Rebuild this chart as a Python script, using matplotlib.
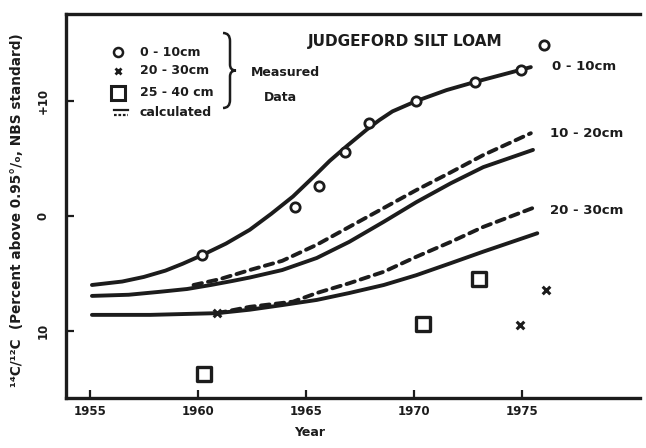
import numpy as np
import matplotlib
matplotlib.use("Agg")
import matplotlib.pyplot as plt
from matplotlib.path import Path
from matplotlib.patches import PathPatch
from matplotlib.lines import Line2D

ink = "#1c1c1c"

# calculated curves (year, 14C excess)
yr_010 = [1955.1, 1956.5, 1957.5, 1958.5, 1959.3, 1960.2, 1961.3, 1962.4, 1963.4, 1964.4,
          1965.4, 1966.1, 1966.9, 1967.8, 1968.4, 1969.0, 1970.1, 1971.5, 1972.8, 1974.0, 1975.4]
c_010 = [-6.0, -5.7, -5.3, -4.75, -4.15, -3.4, -2.4, -1.2, 0.2, 1.7,
         3.5, 4.8, 6.1, 7.5, 8.35, 9.1, 10.0, 10.95, 11.65, 12.25, 12.95]

yr_1020 = [1955.1, 1956.8, 1958.2, 1959.5, 1960.6, 1961.6, 1962.4, 1963.9, 1965.5, 1967.0,
           1968.6, 1970.1, 1971.7, 1973.2, 1975.5]
c_1020 = [-6.95, -6.85, -6.6, -6.35, -6.0, -5.65, -5.35, -4.7, -3.65, -2.25,
          -0.5, 1.2, 2.85, 4.25, 5.75]
yr_1020d = [1959.8, 1961.0, 1962.4, 1963.9, 1965.5, 1967.0, 1968.6, 1970.1, 1971.7, 1973.2, 1975.4]
c_1020d = [-6.0, -5.5, -4.7, -3.9, -2.5, -0.95, 0.7, 2.25, 3.8, 5.3, 7.2]

yr_2030 = [1955.1, 1957.8, 1960.9, 1962.4, 1963.9, 1965.5, 1967.0, 1968.6, 1970.1, 1971.7,
           1973.2, 1975.7]
c_2030 = [-8.6, -8.6, -8.45, -8.15, -7.75, -7.3, -6.7, -6.0, -5.15, -4.1, -3.1, -1.5]
yr_2030d = [1960.9, 1962.4, 1964.4, 1965.5, 1967.0, 1968.6, 1970.1, 1971.7, 1973.2, 1975.5]
c_2030d = [-8.45, -7.9, -7.45, -6.7, -5.85, -4.85, -3.55, -2.25, -0.95, 0.7]

# measured data
circ_yr = [1960.2, 1964.5, 1965.6, 1966.8, 1967.9, 1970.1, 1972.8, 1974.95, 1976.0]
circ_v = [-3.4, 0.8, 2.6, 5.55, 8.1, 10.0, 11.65, 12.7, 14.85]
cross_yr = [1960.9, 1974.9, 1976.1]
cross_v = [-8.45, -9.5, -6.45]
sq_yr = [1960.3, 1970.4, 1973.0]
sq_v = [-13.75, -9.4, -5.5]

W, H = 646, 448
fig = plt.figure(figsize=(W / 100, H / 100), dpi=100)
ax = fig.add_axes([66 / W, 1 - 398 / H, (640 - 66) / W, (398 - 14) / H])
ax.set_xlim(1953.9, 1980.45)
ax.set_ylim(-15.83, 17.57)

def px(x, y):
    return x / W, 1 - y / H

lw = 2.8
dash = (0, (2.2, 1.6))
ax.plot(yr_010, c_010, color=ink, lw=lw, solid_capstyle="round", solid_joinstyle="round")
ax.plot(yr_1020, c_1020, color=ink, lw=lw, solid_capstyle="round", solid_joinstyle="round")
ax.plot(yr_1020d, c_1020d, color=ink, lw=lw, ls=dash, dash_capstyle="round")
ax.plot(yr_2030, c_2030, color=ink, lw=lw, solid_capstyle="round", solid_joinstyle="round")
ax.plot(yr_2030d, c_2030d, color=ink, lw=lw, ls=dash, dash_capstyle="round")

ax.scatter(circ_yr, circ_v, s=45, facecolors="white", edgecolors=ink, linewidths=2.0, zorder=3)
ax.scatter(cross_yr, cross_v, s=30, marker="x", color=ink, linewidths=2.2, zorder=3)
ax.scatter(sq_yr, sq_v, s=110, marker="s", facecolors="white", edgecolors=ink, linewidths=2.4, zorder=3)

# curve labels
fs = 9.5
ax.text(1976.4, 13.0, "0 - 10cm", fontsize=fs, fontweight="bold", color=ink, va="center")
ax.text(1976.3, 7.2, "10 - 20cm", fontsize=fs, fontweight="bold", color=ink, va="center")
ax.text(1976.3, 0.45, "20 - 30cm", fontsize=fs, fontweight="bold", color=ink, va="center")
ax.text(1969.6, 15.2, "JUDGEFORD SILT LOAM", fontsize=11, fontweight="bold", color=ink,
        ha="center", va="center")

# axes styling
for s in ["left", "bottom", "top"]:
    ax.spines[s].set_linewidth(2.4)
    ax.spines[s].set_color(ink)
ax.spines["right"].set_visible(False)
ax.set_xticks([1955, 1960, 1965, 1970, 1975])
ax.set_xticklabels(["1955", "1960", "1965", "1970", "1975"])
ax.set_yticks([10, 0, -10])
ax.set_yticklabels(["+10", "0", "10"], rotation=90, va="center")
ax.tick_params(direction="in", length=6, width=1.6, color=ink, labelcolor=ink, labelsize=8.5)
ax.tick_params(axis="x", pad=5)
ax.tick_params(axis="y", pad=12)
for t in ax.get_xticklabels() + ax.get_yticklabels():
    t.set_fontweight("bold")

fig.text(*px(310, 432), "Year", fontsize=9, fontweight="bold", color=ink, ha="center", va="center")
fig.text(*px(17, 210), "¹⁴C/¹²C  (Percent above 0.95°/ₒ, NBS standard)", fontsize=9.8,
         fontweight="bold", color=ink, rotation=90, ha="center", va="center")

# legend block
lfs = 9
for (yy, mk, ms, mew) in [(52, "o", 6.5, 1.8), (71, "x", 4.5, 2.0), (93, "s", 10, 2.2)]:
    x0, y0 = px(118, yy)
    fig.add_artist(Line2D([x0], [y0], marker=mk, ms=ms, mew=mew, mfc="white", mec=ink,
                          ls="none", transform=fig.transFigure))
fig.text(*px(140, 52), "0 - 10cm", fontsize=lfs, fontweight="bold", color=ink, va="center")
fig.text(*px(140, 71), "20 - 30cm", fontsize=lfs, fontweight="bold", color=ink, va="center")
fig.text(*px(140, 93), "25 - 40 cm", fontsize=lfs, fontweight="bold", color=ink, va="center")
fig.text(*px(140, 113), "calculated", fontsize=lfs, fontweight="bold", color=ink, va="center")
for yy, st in [(110, "-"), (115, (0, (1.2, 0.8)))]:
    x0, y0 = px(114, yy)
    x1, _ = px(128, yy)
    fig.add_artist(Line2D([x0, x1], [y0, y0], color=ink, lw=1.6, ls=st, transform=fig.transFigure))

# brace
bx, by0, by1 = 223, 33, 108
mid = (by0 + by1) / 2
pts = [px(bx, by0), px(bx + 7, by0), px(bx + 7, by0 + 8), px(bx + 7, mid - 6), px(bx + 7, mid),
       px(bx + 13, mid), px(bx + 7, mid), px(bx + 7, mid + 6), px(bx + 7, by1 - 8),
       px(bx + 7, by1), px(bx, by1)]
codes = [Path.MOVETO, Path.CURVE3, Path.CURVE3, Path.LINETO, Path.CURVE3, Path.CURVE3,
         Path.CURVE3, Path.CURVE3, Path.LINETO, Path.CURVE3, Path.CURVE3]
fig.add_artist(PathPatch(Path(pts, codes), fill=False, lw=1.8, ec=ink, transform=fig.transFigure))
fig.text(*px(285, 73), "Measured", fontsize=lfs, fontweight="bold", color=ink, ha="center", va="center")
fig.text(*px(280, 97), "Data", fontsize=lfs, fontweight="bold", color=ink, ha="center", va="center")

fig.savefig("out.png", dpi=100)
